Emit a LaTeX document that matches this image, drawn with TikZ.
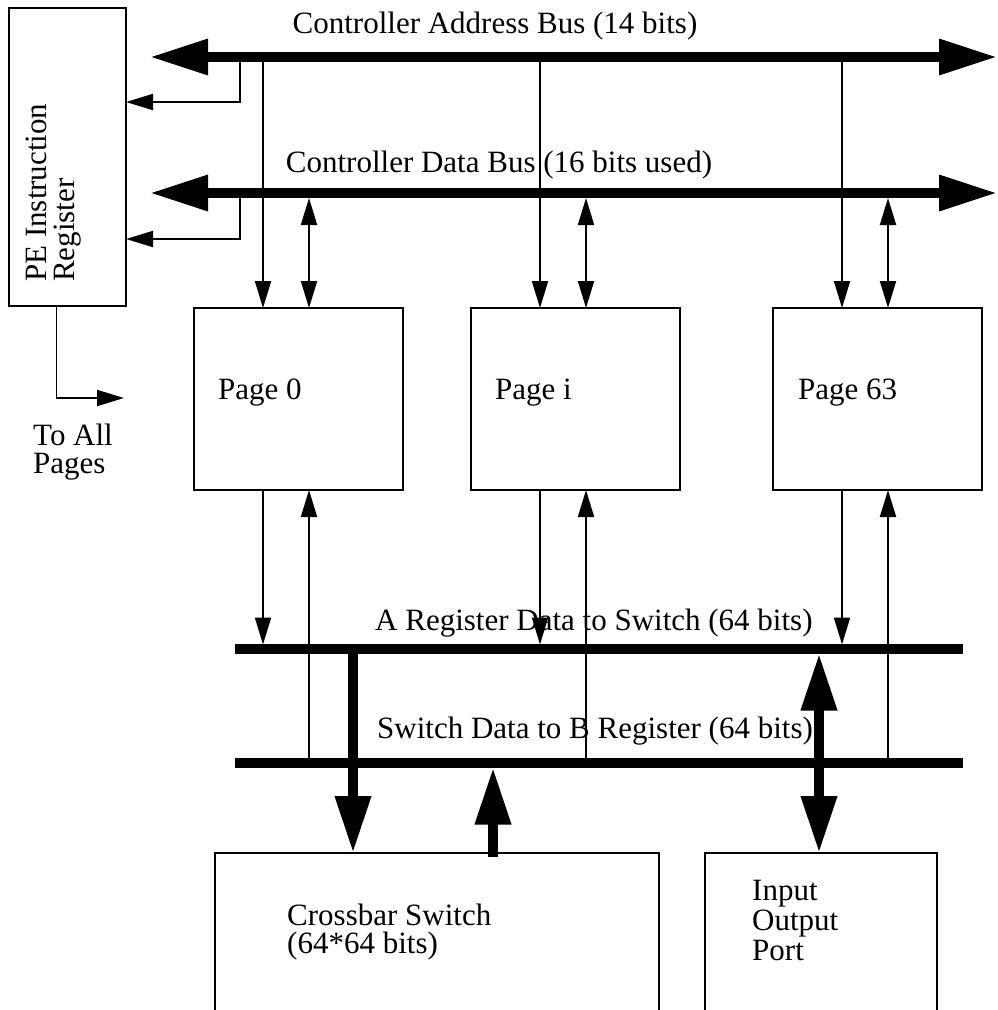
\documentclass[tikz,border=0pt]{standalone}
\usepackage{fontspec}
\setmainfont{Liberation Serif}
\usetikzlibrary{arrows.meta}

\begin{document}
\begin{tikzpicture}[x=1pt,y=-1pt,
  lbl/.style={inner sep=0pt, font=\fontsize{31}{28}\selectfont, align=left},
  box/.style={draw, line width=1.9pt, inner sep=0pt, outer sep=0pt, anchor=north west},
  thinline/.style={line width=1.9pt},
  sarr/.style={thinline, -{Triangle[length=27pt,width=16pt]}},
  darr/.style={thinline, {Triangle[length=27pt,width=16pt]}-{Triangle[length=27pt,width=16pt]}},
  bus/.style={line width=9.5pt},
  dbus/.style={bus, {Triangle[length=58pt,width=34pt]}-{Triangle[length=58pt,width=34pt]}},
  tarr/.style={line width=10pt, -{Triangle[length=57pt,width=34pt]}},
  dtarr/.style={line width=10pt, {Triangle[length=57pt,width=34pt]}-{Triangle[length=57pt,width=34pt]}}
]
\useasboundingbox[fill=white] (0,0) rectangle (997,1010);

% boxes
\node[box, minimum width=117pt, minimum height=298pt] (pe) at (9,8) {};
\node[box, minimum width=209pt, minimum height=182pt] (p0) at (194,308) {};
\node[box, minimum width=209pt, minimum height=182pt] (pi) at (471,308) {};
\node[box, minimum width=209pt, minimum height=182pt] (p63) at (773,308) {};
\node[box, minimum width=444pt, minimum height=180pt] (xbar) at (215,853) {};
\node[box, minimum width=232pt, minimum height=180pt] (io) at (705,853) {};

% texts
\node[lbl, rotate=90, anchor=west] (petext) at (54,282) {PE Instruction\\Register};
\node[lbl, anchor=base] (abtext) at (495,33) {Controller Address Bus (14 bits)};
\node[lbl, anchor=base] (dbtext) at (499,172) {Controller Data Bus (16 bits used)};
\node[lbl, anchor=base west] (t0) at (218,399) {Page 0};
\node[lbl, anchor=base west] (ti) at (495,399) {Page i};
\node[lbl, anchor=base west] (t63) at (798,399) {Page 63};
\node[lbl, anchor=base west] (allp) at (33,473) {To All\\Pages};
\node[lbl, anchor=base west] (atext) at (375,630) {A Register Data to Switch (64 bits)};
\node[lbl, anchor=base west] (btext) at (377,738) {Switch Data to B Register (64 bits)};
\node[lbl, anchor=base west] (xtext) at (287,953) {Crossbar Switch\\(64*64 bits)};
\node[lbl, anchor=base west, font=\fontsize{31}{30}\selectfont] (iotext) at (752,960) {Input\\Output\\Port};

% controller buses
\coordinate (abL) at (150,57);
\coordinate (abR) at (997,57);
\coordinate (dbL) at (150,193);
\coordinate (dbR) at (997,193);
\coordinate (dbB) at (150,198);
\draw[dbus] (abL) -- (abR);
\draw[dbus] (dbL) -- (dbR);

% register data buses
\coordinate (aL) at (235,649);
\coordinate (aR) at (963,649);
\coordinate (aT) at (235,644.5);
\coordinate (aB) at (235,653.5);
\coordinate (bL) at (235,763);
\coordinate (bR) at (963,763);
\coordinate (bB) at (235,767.5);
\draw[bus] (aL) -- (aR);
\draw[bus] (bL) -- (bR);

% taps into the PE instruction register
\coordinate (tapA) at (240,57);
\coordinate (tapD) at (240,193);
\coordinate (peA) at ([yshift=-94pt]pe.north east);
\coordinate (peD) at ([yshift=-231pt]pe.north east);
\draw[sarr] (tapA) |- (peA);
\draw[sarr] (tapD) |- (peD);
\coordinate (peS) at ([xshift=-11pt]pe.south);
\coordinate (toall) at (124,398);
\draw[sarr] (peS) |- (toall);

% page connections
\foreach \p in {p0,pi,p63} {
  \coordinate (\p-a) at ([xshift=69pt]\p.north west);
  \coordinate (\p-d) at ([xshift=115pt]\p.north west);
  \coordinate (\p-b) at ([xshift=69pt]\p.south west);
  \coordinate (\p-c) at ([xshift=115pt]\p.south west);
  \draw[sarr] (\p-a |- abL) -- (\p-a);
  \draw[darr] (\p-d |- dbB) -- (\p-d);
  \draw[sarr] (\p-b) -- (\p-b |- aT);
  \draw[sarr] (\p-c |- bL) -- (\p-c);
}

% crossbar and port links
\coordinate (x1) at (353,649);
\coordinate (x2) at (493,767.5);
\coordinate (x2s) at (493,857);
\coordinate (x3) at (819,653.5);
\draw[tarr] (x1) -- (x1 |- xbar.north);
\draw[tarr] (x2s) -- (x2);
\draw[dtarr] (x3 |- io.north) -- (x3);
\end{tikzpicture}
\end{document}
